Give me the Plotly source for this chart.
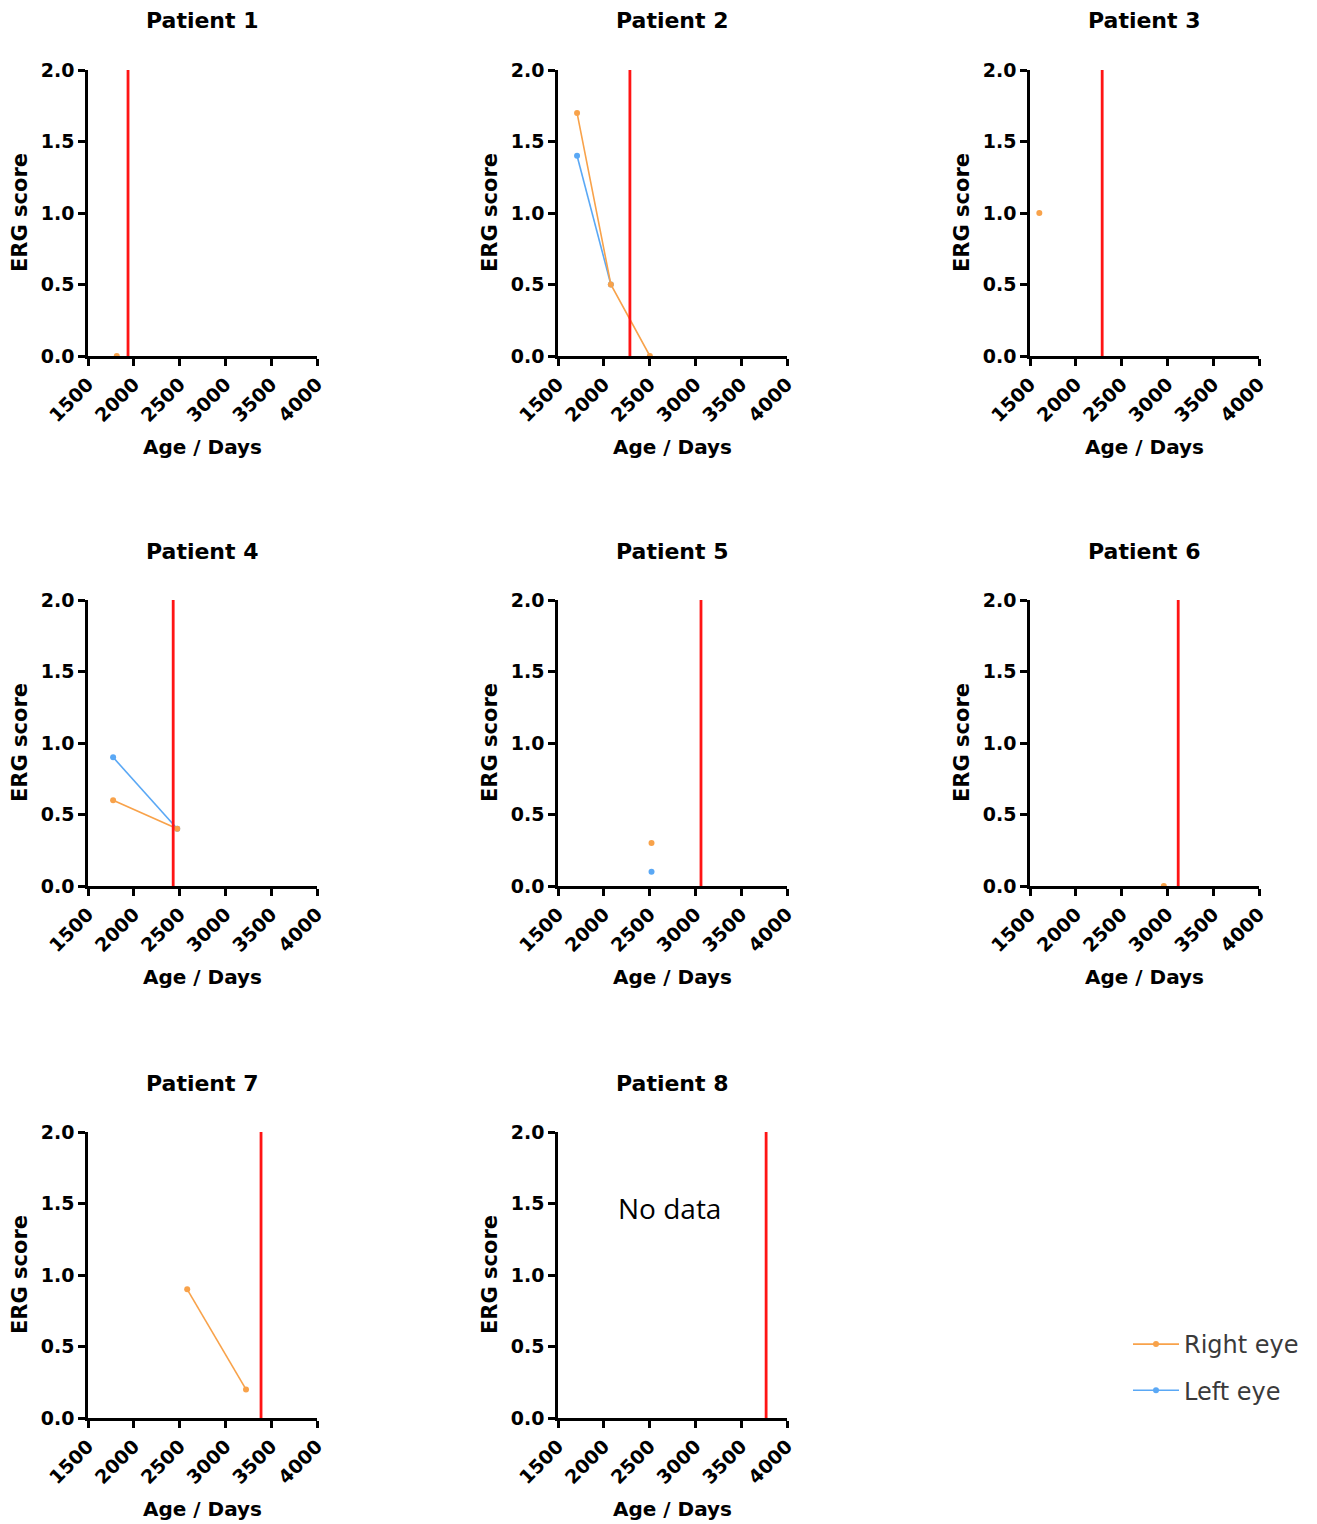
import plotly.graph_objects as go

# page offset introduced by the default <body> margin of the written html
OFF = 8
W, H = 1317 - OFF, 1524 - OFF

patients = ["Patient 1", "Patient 2", "Patient 3", "Patient 4",
            "Patient 5", "Patient 6", "Patient 7", "Patient 8"]
right_days = [[1814], [1708, 2077, 2503], [1602], [1774, 2474], [2521], [2961], [2583, 3225], []]
right_erg = [[0.0], [1.7, 0.5, 0.0], [1.0], [0.6, 0.4], [0.3], [0.0], [0.9, 0.2], []]
left_days = [[], [1708, 2077], [], [1774, 2474], [2521], [], [], []]
left_erg = [[], [1.4, 0.5], [], [0.9, 0.4], [0.1], [], [], []]
treatment_day = [1937, 2285, 2288, 2430, 3061, 3118, 3389, 3772]
x_ticks = [1500, 2000, 2500, 3000, 3500, 4000]
y_ticks = [0.0, 0.5, 1.0, 1.5, 2.0]
y_tick_text = ["0.0", "0.5", "1.0", "1.5", "2.0"]

ORANGE = "#F8A24A"
BLUE = "#5AA8F5"
RED = "#FF1414"
BOLD = "DejaVu Sans"

col_left = [88, 558, 1030]
row_top = [70, 600, 1132]
pw, ph = 229, 286


def px_x(p):
    return (p - OFF) / W


def px_y(p):
    return 1 - (p - OFF) / H


fig = go.Figure()
annotations = []
layout = {}

for i, name in enumerate(patients):
    r, c = divmod(i, 3)
    k = i + 1
    xa = "x" if k == 1 else f"x{k}"
    ya = "y" if k == 1 else f"y{k}"
    x0 = col_left[c]
    y0 = row_top[r]
    xdom = [px_x(x0), px_x(x0 + pw)]
    ydom = [px_y(y0 + ph), px_y(y0)]
    axis_common = dict(
        showgrid=False, zeroline=False, showline=True, linecolor="black",
        linewidth=2.5, ticks="outside", ticklen=7, tickwidth=2.5, tickcolor="black",
        tickfont=dict(family=BOLD, size=19, color="black", weight="bold"),
        fixedrange=True, automargin=False,
    )
    layout[f"xaxis{'' if k == 1 else k}"] = dict(
        axis_common, domain=xdom, anchor=ya, range=[1500, 4000],
        tickvals=x_ticks, ticktext=[str(t) for t in x_ticks], tickangle=-45,
    )
    layout[f"yaxis{'' if k == 1 else k}"] = dict(
        axis_common, domain=ydom, anchor=xa, range=[0, 2.0],
        tickvals=y_ticks, ticktext=y_tick_text,
    )

    # left eye (drawn first)
    if left_days[i]:
        fig.add_trace(go.Scatter(
            x=left_days[i], y=left_erg[i], mode="lines+markers",
            line=dict(color=BLUE, width=1.6), marker=dict(color=BLUE, size=6),
            name="Left eye", legendgroup="left", legendrank=2,
            showlegend=(i == 1), xaxis=xa, yaxis=ya, cliponaxis=False,
        ))
    if right_days[i]:
        fig.add_trace(go.Scatter(
            x=right_days[i], y=right_erg[i], mode="lines+markers",
            line=dict(color=ORANGE, width=1.6), marker=dict(color=ORANGE, size=6),
            name="Right eye", legendgroup="right", legendrank=1,
            showlegend=(i == 0), xaxis=xa, yaxis=ya, cliponaxis=False,
        ))
    fig.add_trace(go.Scatter(
        x=[treatment_day[i], treatment_day[i]], y=[0, 2.0], mode="lines",
        line=dict(color=RED, width=2.8), showlegend=False, hoverinfo="skip",
        xaxis=xa, yaxis=ya,
    ))

    cx = px_x(x0 + pw / 2)
    annotations.append(dict(
        text=name, x=cx, y=px_y(y0 - 49), xref="paper", yref="paper",
        xanchor="center", yanchor="middle", showarrow=False,
        font=dict(family=BOLD, size=22, color="black", weight="bold"),
    ))
    annotations.append(dict(
        text="Age / Days", x=cx, y=px_y(y0 + ph + 91), xref="paper", yref="paper",
        xanchor="center", yanchor="middle", showarrow=False,
        font=dict(family=BOLD, size=20, color="black", weight="bold"),
    ))
    annotations.append(dict(
        text="ERG score", x=px_x(x0 - 68), y=px_y(y0 + ph / 2),
        xref="paper", yref="paper", textangle=-90,
        xanchor="center", yanchor="middle", showarrow=False,
        font=dict(family=BOLD, size=21, color="black", weight="bold"),
    ))

annotations.append(dict(
    text="No data", x=2714, y=1.47, xref="x8", yref="y8",
    xanchor="center", yanchor="middle", showarrow=False,
    font=dict(family="Open Sans", size=28, color="black"),
))

fig.update_layout(
    width=W, height=H, autosize=False,
    margin=dict(l=0, r=0, t=0, b=0, autoexpand=False),
    paper_bgcolor="white", plot_bgcolor="white",
    annotations=annotations,
    showlegend=True,
    legend=dict(
        x=px_x(1128), y=px_y(1322), xanchor="left", yanchor="top",
        font=dict(family="DejaVu Sans", size=24, color="#3a3a3a"),
        bgcolor="rgba(0,0,0,0)", tracegroupgap=12, traceorder="grouped",
        itemwidth=46,
    ),
    **layout,
)

fig.write_html("out.html")
